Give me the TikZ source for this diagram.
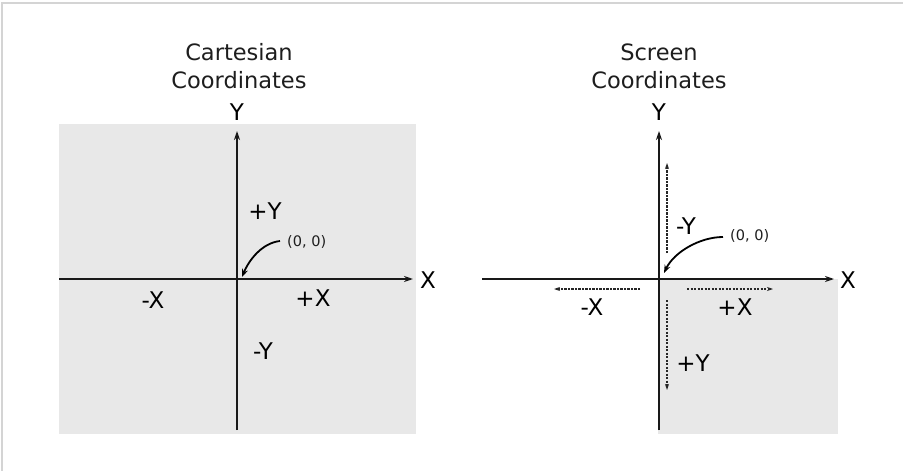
\documentclass[tikz,border=0pt]{standalone}
\usepackage{fontspec}
\setmainfont{DejaVu Sans}
\usetikzlibrary{arrows.meta}
\definecolor{panelgray}{HTML}{E8E8E8}
\definecolor{framegray}{HTML}{D4D4D4}
\definecolor{txtgray}{HTML}{1E1E1E}
\begin{document}
\begin{tikzpicture}[x=1pt,y=-1pt,
  axisline/.style={line width=2.3pt, draw=black!90, -{Stealth[length=9pt,width=6pt]}},
  dasharrow/.style={line width=1.3pt, draw=black!85, dash pattern=on 2.2pt off 1.3pt, -{Stealth[length=6pt,width=4pt]}},
  curvearrow/.style={line width=1.8pt, draw=black, -{Stealth[length=8pt,width=6pt]}},
  biglabel/.style={font=\fontsize{23}{27}\selectfont, text=black, inner sep=0pt},
  titlelabel/.style={font=\fontsize{22.5}{28}\selectfont, text=txtgray, inner sep=0pt, align=center},
  smalllabel/.style={font=\fontsize{14.5}{17}\selectfont, text=txtgray, inner sep=0pt}]
\useasboundingbox (0,0) rectangle (903,471);
% outer frame (top and left edges)
\draw[framegray, line width=1.6pt] (2,471) -- (2,3) -- (903,3);

% ---------------- Cartesian ----------------
\fill[panelgray] (59,124) rectangle (416,434);
\coordinate (cxs) at (59,279);
\coordinate (cxe) at (413,279);
\coordinate (cys) at (237,430);
\coordinate (cye) at (237,131);
\draw[axisline] (cxs) -- (cxe);
\draw[axisline] (cys) -- (cye);
\node[titlelabel] (ctitle) at (239,66) {Cartesian\\Coordinates};
\node[biglabel] (cX) at (428,280) {X};
\node[biglabel] (cY) at (237,112) {Y};
\node[biglabel] (cpY) at (265,211) {+Y};
\node[biglabel] (cmY) at (263,351) {-Y};
\node[biglabel] (cmX) at (153,300) {-X};
\node[biglabel] (cpX) at (313,298) {+X};
\node[smalllabel, anchor=west] (corig) at (287,242) {(0, 0)};
\coordinate (cstart) at (280,241);
\coordinate (corigin) at (242,277);
\draw[curvearrow] (cstart) .. controls (262,243) and (249,260) .. (corigin);

% ---------------- Screen ----------------
\fill[panelgray] (658,279) rectangle (838,434);
\coordinate (sxs) at (482,279);
\coordinate (sxe) at (834,279);
\coordinate (sys) at (659,430);
\coordinate (sye) at (659,131);
\draw[axisline] (sxs) -- (sxe);
\draw[axisline] (sys) -- (sye);
\node[titlelabel] (stitle) at (659,66) {Screen\\Coordinates};
\node[biglabel] (sX) at (848,280) {X};
\node[biglabel] (sY) at (659,112) {Y};
\node[biglabel] (smY) at (686,226) {-Y};
\node[biglabel] (spY) at (693,363) {+Y};
\node[biglabel] (smX) at (592,307) {-X};
\node[biglabel] (spX) at (735,307) {+X};
\node[smalllabel, anchor=west] (sorig) at (730,236) {(0, 0)};
\coordinate (sstart) at (723,237);
\coordinate (sorigin) at (664,273);
\draw[curvearrow] (sstart) .. controls (700,237) and (674,252) .. (sorigin);
% dashed direction arrows
\coordinate (dmys) at (667,253);
\coordinate (dmye) at (667,163);
\coordinate (dpys) at (667,300);
\coordinate (dpye) at (667,390);
\coordinate (dmxs) at (640,289);
\coordinate (dmxe) at (554,289);
\coordinate (dpxs) at (687,289);
\coordinate (dpxe) at (773,289);
\draw[dasharrow] (dmys) -- (dmye);
\draw[dasharrow] (dpys) -- (dpye);
\draw[dasharrow] (dmxs) -- (dmxe);
\draw[dasharrow] (dpxs) -- (dpxe);
\end{tikzpicture}
\end{document}
